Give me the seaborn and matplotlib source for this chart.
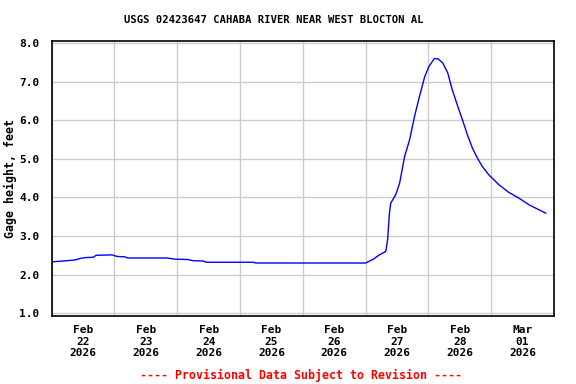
import matplotlib
matplotlib.use("Agg")
import matplotlib.pyplot as plt
import matplotlib.dates as mdates
import seaborn as sns
import pandas as pd
import numpy as np

# hours since 2026-02-22 00:00
hours = [0, 6, 9, 11, 13, 16, 17, 23, 25, 28, 29, 44, 47, 52, 54, 58, 59, 77, 78,
         120, 123, 125, 127.7, 128.4, 129.1, 129.6, 131.5, 133, 134.9, 136.8, 138.7,
         140.6, 142.6, 144.2, 146.2, 147.6, 149.5, 151.4, 153.1, 155, 157, 158.9,
         160.8, 162.7, 164.6, 167, 170.9, 174.7, 178.6, 182.4, 186.2, 188.9]
gage_ft = [2.33, 2.36, 2.38, 2.42, 2.44, 2.45, 2.50, 2.51, 2.47, 2.46, 2.43, 2.43, 2.40,
           2.39, 2.36, 2.35, 2.32, 2.32, 2.30,
           2.30, 2.40, 2.50, 2.60, 2.90, 3.59, 3.85, 4.07, 4.37, 5.06, 5.49, 6.10,
           6.62, 7.13, 7.39, 7.59, 7.59, 7.48, 7.22, 6.79, 6.40, 6.01, 5.62,
           5.28, 5.02, 4.80, 4.59, 4.33, 4.13, 3.98, 3.81, 3.68, 3.59]
tick_labels = ["Feb\n22\n2026", "Feb\n23\n2026", "Feb\n24\n2026", "Feb\n25\n2026",
               "Feb\n26\n2026", "Feb\n27\n2026", "Feb\n28\n2026", "Mar\n01\n2026"]
title = "USGS 02423647 CAHABA RIVER NEAR WEST BLOCTON AL"
ylabel = "Gage height, feet"
footer = "---- Provisional Data Subject to Revision ----"

start = pd.Timestamp("2026-02-22")
df = pd.DataFrame({"time": [start + pd.Timedelta(hours=h) for h in hours],
                   "gage": gage_ft})

sns.set_style("white")
plt.rcParams["font.family"] = ["DejaVu Sans Mono"]
plt.rcParams["font.weight"] = "bold"
for k in ["text.color", "axes.labelcolor", "xtick.color", "ytick.color"]:
    plt.rcParams[k] = "black"

fig = plt.figure(figsize=(5.76, 3.84), dpi=100)
ax = fig.add_axes([51.7/576, 1-315.7/384, (554-51.7)/576, (315.7-41)/384])
sns.lineplot(data=df, x="time", y="gage", ax=ax, color="#0000ff", linewidth=1.0)

ax.set_xlim(start, start + pd.Timedelta(days=8))
ax.set_ylim(0.935, 8.05)

days = [start + pd.Timedelta(days=i) for i in range(9)]
noons = [start + pd.Timedelta(days=i, hours=12) for i in range(8)]
ax.set_xticks(mdates.date2num(noons))
ax.set_xticklabels(tick_labels, fontsize=8, fontweight="bold", linespacing=1.15)
ax.set_xticks(mdates.date2num(days), minor=True)
yt = np.arange(1.0, 8.01, 1.0)
ax.set_yticks(yt)
ax.set_yticklabels([f"{v:.1f}" for v in yt], fontsize=8, fontweight="bold")
ax.tick_params(axis="both", which="both", length=0)
ax.tick_params(axis="x", pad=7)
ax.tick_params(axis="y", pad=9)
ax.grid(True, which="minor", axis="x", color="#cccccc", linewidth=1.0)
ax.grid(True, which="major", axis="y", color="#cccccc", linewidth=1.0)
ax.grid(False, which="major", axis="x")
for s in ax.spines.values():
    s.set_color("black")
    s.set_linewidth(1.2)
ax.set_xlabel("")
ax.set_ylabel(ylabel, fontsize=8.4, fontweight="bold")
ax.yaxis.set_label_coords((17 - 51.7) / 502.3, 0.5)
fig.text(0.5 * (125 + 422) / 576, 1 - 20 / 384, title, ha="center", va="center",
         fontsize=7.6, fontweight="bold")
fig.text(301 / 576, 1 - 375 / 384, footer, ha="center", va="center",
         fontsize=8.4, fontweight="bold", color="red")
fig.savefig("out.png", dpi=100)
